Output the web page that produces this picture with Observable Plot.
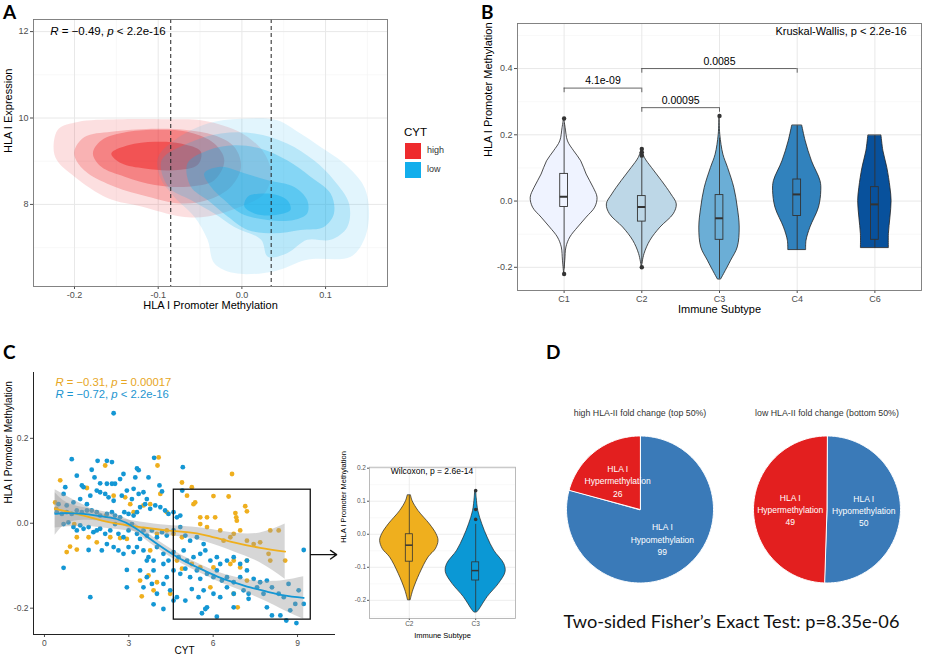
<!DOCTYPE html>
<html><head><meta charset="utf-8">
<script src="https://cdn.jsdelivr.net/npm/d3@7"></script>
<script src="https://cdn.jsdelivr.net/npm/@observablehq/plot@0.6"></script>
<style>
body{margin:0;background:#fff;}
#root{position:relative;width:936px;height:659px;background:#fff;overflow:hidden;font-family:'Liberation Sans',Arial,sans-serif;}
.pl{position:absolute;font-family:Lato,'Open Sans',sans-serif;font-size:19px;font-weight:700;color:#000;line-height:1;}
</style></head><body><div id="root"></div>
<script>
// ---------------- DATA ----------------
// Panel A : 2D density contour levels (HLA I promoter methylation, HLA I expression)
const cytLevels = ["high", "low"];
const redLevel1 = [[-0.225,9.33],[-0.219,9.75],[-0.196,9.91],[-0.148,9.97],[-0.088,9.97],[-0.049,9.95],[-0.017,9.79],[0.007,9.56],[0.027,9.18],[0.035,8.72],[0.027,8.25],[-0.001,7.95],[-0.041,7.72],[-0.073,7.72],[-0.120,7.95],[-0.160,8.14],[-0.200,8.64],[-0.221,9.02]];
const redLevel2 = [[-0.200,9.25],[-0.188,9.56],[-0.156,9.68],[-0.108,9.75],[-0.069,9.73],[-0.033,9.60],[-0.009,9.33],[-0.001,8.87],[-0.013,8.41],[-0.041,8.10],[-0.073,8.02],[-0.112,8.18],[-0.152,8.41],[-0.184,8.72],[-0.198,9.02]];
const redLevel3 = [[-0.178,9.18],[-0.168,9.48],[-0.136,9.68],[-0.096,9.73],[-0.065,9.68],[-0.033,9.41],[-0.021,9.02],[-0.033,8.56],[-0.065,8.41],[-0.104,8.45],[-0.140,8.64],[-0.168,8.87]];
const redLevel4 = [[-0.156,9.18],[-0.136,9.37],[-0.104,9.45],[-0.073,9.41],[-0.049,9.22],[-0.053,8.91],[-0.081,8.79],[-0.116,8.83],[-0.144,8.95]];
const blueLevel1 = [[-0.100,9.10],[-0.081,9.48],[-0.041,9.87],[-0.001,9.98],[0.042,9.95],[0.070,9.64],[0.094,9.33],[0.122,8.95],[0.146,8.41],[0.152,7.79],[0.146,7.18],[0.130,6.79],[0.078,6.72],[0.038,6.45],[-0.009,6.41],[-0.033,6.64],[-0.041,7.18],[-0.057,7.72],[-0.081,8.18],[-0.098,8.64]];
const blueLevel2 = [[-0.096,9.02],[-0.065,9.41],[-0.025,9.64],[0.015,9.64],[0.054,9.41],[0.086,9.02],[0.110,8.56],[0.128,8.02],[0.126,7.48],[0.106,7.18],[0.078,7.18],[0.054,6.87],[0.031,6.79],[0.023,7.18],[-0.009,7.48],[-0.033,7.79],[-0.061,8.10],[-0.088,8.41]];
const blueLevel3 = [[-0.065,8.95],[-0.041,9.25],[-0.009,9.37],[0.023,9.29],[0.054,9.02],[0.082,8.64],[0.106,8.25],[0.110,7.79],[0.098,7.48],[0.070,7.41],[0.038,7.33],[0.007,7.41],[-0.017,7.72],[-0.041,8.10],[-0.061,8.41]];
const blueLevel4 = [[-0.045,8.72],[-0.025,8.87],[0.003,8.72],[0.031,8.56],[0.062,8.41],[0.078,8.10],[0.078,7.79],[0.062,7.64],[0.031,7.64],[-0.001,7.79],[-0.021,8.10],[-0.037,8.41]];
const blueLevel5 = [[0.007,8.18],[0.031,8.25],[0.054,8.10],[0.058,7.87],[0.038,7.75],[0.015,7.79],[0.003,7.95]];
const cutoffsA = [-0.085, 0.035];
const xTicksA = [-0.2,-0.1,0,0.1], xMinorA = [-0.15,-0.05,0.05,0.15];
const yTicksA = [8,10,12], yMinorA = [7,9,11];
const statA = "R = −0.49, p < 2.2e-16";

// Panel B : violins per immune subtype, [value, half width]
const subtypes = ["C1","C2","C3","C4","C6"];
const violinC1 = [[0.25,0],[0.22,0.02],[0.18,0.05],[0.15,0.13],[0.12,0.22],[0.08,0.29],[0.04,0.38],[0.01,0.43],[-0.02,0.40],[-0.05,0.29],[-0.08,0.18],[-0.11,0.08],[-0.14,0.03],[-0.18,0.015],[-0.22,0]];
const violinC2 = [[0.157,0],[0.13,0.04],[0.10,0.13],[0.06,0.26],[0.02,0.38],[-0.01,0.45],[-0.04,0.41],[-0.08,0.24],[-0.12,0.11],[-0.16,0.035],[-0.20,0]];
const violinC3 = [[0.257,0],[0.2,0.01],[0.14,0.05],[0.10,0.11],[0.04,0.19],[-0.02,0.235],[-0.08,0.26],[-0.14,0.235],[-0.18,0.15],[-0.22,0.06],[-0.237,0.02]];
const violinC4 = [[0.227,0.065],[0.18,0.11],[0.12,0.19],[0.06,0.30],[0.03,0.31],[-0.02,0.28],[-0.08,0.17],[-0.12,0.12],[-0.148,0.115]];
const violinC6 = [[0.197,0.085],[0.15,0.11],[0.10,0.16],[0.04,0.20],[0.0,0.215],[-0.05,0.20],[-0.10,0.18],[-0.142,0.18]];
const boxQ1 = [-0.018,-0.062,-0.117,-0.045,-0.117];
const boxMedian = [0.013,-0.018,-0.052,0.02,-0.01];
const boxQ3 = [0.082,0.015,0.018,0.065,0.042];
const whiskerLow = [-0.205,-0.19,-0.235,-0.148,-0.142];
const whiskerHigh = [0.235,0.13,0.19,0.227,0.197];
const outliersB = [[0.249,-0.22],[0.157,0.147,0.137,-0.2],[0.257],[],[]];
const comparisons = [["C1","C2",0.341,"4.1e-09"],["C2","C3",0.282,"0.00095"],["C2","C4",0.40,"0.0085"]];
const statB = "Kruskal-Wallis, p < 2.2e-16";
const yTicksB = [-0.2,0,0.2,0.4], yMinorB = [-0.1,0.1,0.3,0.5];
const subtypeColors = ["#EFF3FF","#BDD7E7","#6BAED6","#3182BD","#08519C"];

// Panel C : scatter (CYT, methylation) for C2 (orange) and C3 (blue)
const scatterC2 = [[0.56,0.101],[0.38,0.049],[1.51,0.083],[2.16,0.136],[2.46,0.065],[3.17,0.026],[4.06,0.155],[4.02,0.136],[4.35,0.026],[4.89,0.096],[5.24,0.085],[5.30,0.045],[5.36,0.049],[6.01,0.064],[6.67,0.116],[6.55,0.063],[7.14,0.040],[7.20,0.028],[6.79,0.024],[6.82,0.014],[6.84,0.006],[5.54,0.014],[5.78,0.014],[6.07,0.014],[5.07,0.065],[3.52,0.042],[3.76,0.045],[4.12,0.069],[3.05,0.045],[2.87,0.061],[0.91,-0.055],[1.15,-0.062],[1.57,-0.033],[1.86,-0.045],[2.34,-0.033],[2.69,-0.035],[2.93,-0.037],[3.76,-0.064],[4.00,-0.025],[4.35,-0.017],[4.59,-0.025],[4.89,-0.033],[5.54,-0.002],[5.78,-0.009],[6.25,-0.017],[6.37,-0.041],[6.61,-0.033],[6.73,-0.025],[6.96,-0.017],[7.20,-0.041],[7.44,-0.049],[7.67,-0.045],[8.03,-0.017],[8.33,-0.017],[8.56,-0.088],[7.97,-0.072],[8.03,-0.088],[7.20,-0.088],[6.73,-0.088],[6.61,-0.096],[6.96,-0.104],[6.01,-0.104],[5.54,-0.104],[5.24,-0.096],[4.89,-0.107],[4.71,-0.088],[3.40,-0.135],[4.00,-0.139],[3.46,-0.172],[4.47,-0.166],[5.90,-0.151],[6.73,-0.166],[6.87,-0.198],[7.20,-0.135],[3.88,-0.158],[3.70,-0.123],[0.79,-0.068],[1.15,-0.033],[0.42,0.034],[1.06,-0.002],[2.19,0.018]];
const scatterC3 = [[2.46,0.259],[0.97,0.151],[1.15,0.112],[1.33,0.089],[1.39,0.085],[1.68,0.126],[1.89,0.147],[2.22,0.147],[2.40,0.144],[1.78,0.108],[1.98,0.094],[2.22,0.093],[2.40,0.093],[2.51,0.093],[2.81,0.116],[2.69,0.104],[3.29,0.129],[3.35,0.125],[3.23,0.108],[3.17,0.081],[3.35,0.069],[3.52,0.073],[3.70,0.108],[3.90,0.154],[4.09,0.089],[4.18,0.075],[3.64,0.057],[4.92,0.132],[4.90,0.077],[0.68,0.069],[0.74,0.085],[0.50,0.045],[0.79,0.042],[1.03,0.049],[1.27,0.057],[1.51,0.045],[1.63,0.065],[1.86,0.077],[1.98,0.073],[2.16,0.069],[2.28,0.061],[2.46,0.053],[2.75,0.065],[2.93,0.077],[3.11,0.057],[0.44,0.026],[0.62,0.022],[0.79,0.026],[0.97,0.022],[1.15,0.030],[1.33,0.026],[1.51,0.030],[1.68,0.030],[1.86,0.026],[1.98,0.018],[2.22,0.022],[2.40,0.026],[2.51,0.018],[2.69,0.014],[2.84,0.026],[2.99,0.022],[3.17,0.018],[3.29,0.026],[3.40,0.038],[3.58,0.045],[3.76,0.034],[3.94,0.042],[4.12,0.038],[4.29,0.030],[4.41,0.022],[4.59,0.026],[4.71,0.014],[4.83,0.018],[0.68,-0.002],[0.85,0.002],[1.03,-0.009],[1.15,-0.017],[1.27,-0.005],[1.39,-0.013],[1.57,-0.009],[1.74,-0.021],[1.86,-0.017],[1.98,-0.013],[2.16,-0.025],[2.34,-0.017],[2.51,-0.002],[2.63,-0.025],[2.81,-0.033],[2.99,-0.017],[3.11,-0.002],[3.29,-0.025],[3.40,-0.037],[3.52,-0.017],[3.64,-0.029],[3.82,-0.017],[4.00,-0.033],[4.18,-0.021],[4.35,-0.029],[4.59,-0.017],[4.83,-0.009],[5.01,-0.029],[5.18,-0.041],[5.42,-0.033],[5.66,-0.049],[2.22,-0.049],[2.46,-0.056],[2.63,-0.064],[2.81,-0.072],[2.99,-0.056],[3.17,-0.068],[3.29,-0.056],[3.52,-0.064],[3.70,-0.080],[3.88,-0.088],[4.00,-0.056],[4.23,-0.072],[4.41,-0.088],[4.59,-0.068],[4.77,-0.080],[4.95,-0.064],[5.07,-0.088],[5.30,-0.080],[5.54,-0.072],[5.72,-0.064],[5.90,-0.088],[6.13,-0.080],[6.25,-0.096],[6.49,-0.088],[6.73,-0.080],[6.96,-0.096],[7.20,-0.088],[0.68,-0.105],[1.57,-0.063],[2.04,-0.064],[3.64,-0.088],[2.93,-0.110],[3.40,-0.111],[3.64,-0.127],[3.88,-0.111],[4.23,-0.096],[4.35,-0.127],[4.59,-0.111],[4.83,-0.119],[5.01,-0.107],[5.18,-0.127],[5.42,-0.111],[5.54,-0.131],[5.78,-0.119],[6.01,-0.127],[6.13,-0.111],[6.31,-0.135],[6.49,-0.127],[6.73,-0.139],[6.96,-0.127],[7.20,-0.111],[7.44,-0.131],[7.67,-0.139],[7.91,-0.135],[2.93,-0.151],[3.52,-0.151],[3.82,-0.143],[4.00,-0.166],[4.23,-0.143],[4.47,-0.158],[4.71,-0.174],[5.01,-0.182],[5.24,-0.155],[5.48,-0.174],[5.66,-0.158],[5.78,-0.198],[6.01,-0.166],[6.25,-0.174],[6.49,-0.151],[6.73,-0.166],[7.08,-0.158],[7.26,-0.166],[7.56,-0.151],[7.79,-0.166],[8.09,-0.151],[8.33,-0.166],[8.51,-0.174],[8.68,-0.143],[9.04,-0.158],[1.63,-0.174],[3.88,-0.191],[4.23,-0.202],[4.59,-0.182],[5.60,-0.212],[5.72,-0.202],[6.13,-0.220],[6.73,-0.198],[7.26,-0.178],[7.91,-0.198],[8.09,-0.217],[8.39,-0.217],[8.60,-0.229],[8.74,-0.205],[8.92,-0.190],[9.22,-0.190],[8.96,-0.235],[9.22,-0.063]];
// loess fits: [CYT, fit, half width of confidence band]
const smoothC2 = [[0.38,0.034,0.045],[1.39,0.018,0.025],[2.34,0.002,0.015],[3.40,-0.009,0.012],[4.35,-0.017,0.012],[5.07,-0.021,0.013],[5.78,-0.029,0.016],[6.73,-0.045,0.022],[7.67,-0.058,0.035],[8.56,-0.067,0.065]];
const smoothC3 = [[0.38,0.022,0.05],[0.79,0.024,0.025],[1.39,0.022,0.015],[1.98,0.017,0.012],[2.57,0.010,0.01],[3.17,-0.009,0.01],[3.76,-0.037,0.01],[4.35,-0.064,0.01],[4.95,-0.088,0.01],[5.54,-0.107,0.01],[6.13,-0.125,0.011],[6.73,-0.139,0.013],[7.32,-0.151,0.017],[7.91,-0.161,0.024],[8.51,-0.170,0.035],[9.22,-0.176,0.05]];
const statC2 = "R = −0.31, p = 0.00017";
const statC3 = "R = −0.72, p < 2.2e-16";
const zoomBox = {x1: 4.6, x2: 9.47, y1: -0.227, y2: 0.079};

// Panel C inset
const insetGroups = ["C2","C3"];
const insetViolinC2 = [[0.117,0.025],[0.1,0.05],[0.07,0.14],[0.03,0.31],[0,0.41],[-0.02,0.44],[-0.045,0.40],[-0.07,0.29],[-0.12,0.16],[-0.17,0.06],[-0.2,0.02]];
const insetViolinC3 = [[0.13,0.008],[0.11,0.015],[0.07,0.04],[0.03,0.1],[-0.01,0.18],[-0.05,0.28],[-0.09,0.43],[-0.115,0.45],[-0.15,0.35],[-0.19,0.18],[-0.23,0.05],[-0.237,0.02]];
const insetQ1 = [-0.083,-0.14], insetMedian = [-0.033,-0.11], insetQ3 = [0.0,-0.085];
const insetLow = [-0.2,-0.235], insetHigh = [0.117,0.03];
const insetOutliers = [[],[0.132,0.075,0.045]];
const statInset = "Wilcoxon, p = 2.6e-14";

// Panel D
const pieTitles = ["high HLA-II fold change (top 50%)", "low HLA-II fold change (bottom 50%)"];
const pieCategories = ["HLA I\nHypomethylation", "HLA I\nHypermethylation"];
const pieHigh = [99, 26];
const pieLow = [50, 49];
const fisherText = "Two-sided Fisher’s Exact Test: p=8.35e-06";

// ---------------- STYLE ----------------
const F = "'Liberation Sans', Arial, Helvetica, sans-serif";
const RED = "#EE2B2D", SKY = "#12AEEC";
const ORANGE = "#EFAF1E", BLUE = "#1497D4";
const PIE_RED = "#E31F1F", PIE_BLUE = "#3A7AB8";
const root = document.getElementById("root");
function place(el, left, top) {
  const d = document.createElement("div");
  d.style.cssText = `position:absolute;left:${left}px;top:${top}px;`;
  d.appendChild(el); root.appendChild(d); return d;
}
function italicize(svg) {
  svg.querySelectorAll("text").forEach(t => {
    const s = t.textContent;
    if (!/^R = /.test(s) || t.querySelector("tspan")) return;
    t.textContent = "";
    s.split(/(\bR\b|\bp\b)/).forEach(part => {
      if (!part) return;
      const ts = document.createElementNS("http://www.w3.org/2000/svg", "tspan");
      ts.textContent = part;
      if (part === "R" || part === "p") ts.setAttribute("font-style", "italic");
      t.appendChild(ts);
    });
  });
}
const fmt1 = d => d.toFixed(1);

// ---------------- PANEL A ----------------
const contourLayers = [
  [redLevel1, RED, 0.15],[redLevel2, RED, 0.25],[redLevel3, RED, 0.35],[redLevel4, RED, 0.55],
  [blueLevel1, SKY, 0.12],[blueLevel2, SKY, 0.2],[blueLevel3, SKY, 0.3],[blueLevel4, SKY, 0.35],[blueLevel5, SKY, 0.45]
];
const plotA = Plot.plot({
  width: 400, height: 320, marginLeft: 33, marginRight: 13, marginTop: 19, marginBottom: 34,
  style: {fontFamily: F, fontSize: "9px", color: "#4d4d4d", background: "transparent", overflow: "visible"},
  x: {domain: [-0.249, 0.174], ticks: xTicksA, tickFormat: fmt1, tickSize: 3, tickPadding: 2, label: null},
  y: {domain: [6.1, 12.28], ticks: yTicksA, tickFormat: d => String(d), tickSize: 3, tickPadding: 2, label: null},
  marks: [
    Plot.ruleX(xMinorA, {stroke: "#f3f3f3", strokeWidth: 0.6}),
    Plot.ruleY(yMinorA, {stroke: "#f3f3f3", strokeWidth: 0.6}),
    Plot.ruleX(xTicksA, {stroke: "#e8e8e8", strokeWidth: 1}),
    Plot.ruleY(yTicksA, {stroke: "#e8e8e8", strokeWidth: 1}),
    ...contourLayers.map(([pts, c, op]) => Plot.line(pts, {x: d => d[0], y: d => d[1], fill: c, fillOpacity: op, stroke: "none", curve: "catmull-rom-closed"})),
    Plot.ruleX(cutoffsA, {stroke: "#222", strokeDasharray: "4,3", strokeWidth: 1}),
    Plot.frame({stroke: "#777", strokeWidth: 0.9}),
    Plot.text([statA], {x: -0.229, y: 12, text: d => d, textAnchor: "start", fontSize: 11.5, fill: "#000"}),
    Plot.text(["HLA I Promoter Methylation"], {frameAnchor: "bottom", dy: 22, text: d => d, fontSize: 11, fill: "#000"}),
    Plot.text(["HLA I Expression"], {frameAnchor: "left", rotate: -90, dx: -25, text: d => d, fontSize: 11, fill: "#000"})
  ]
});
italicize(plotA);
place(plotA, 0, 0);

// legend (CYT)
{
  const lg = document.createElement("div");
  lg.style.cssText = `position:relative;width:60px;height:60px;font-family:${F};`;
  const t = document.createElement("div");
  t.textContent = "CYT";
  t.style.cssText = "position:absolute;left:0;top:0;font-size:11.5px;color:#000;";
  lg.appendChild(t);
  cytLevels.forEach((lv, i) => {
    const sw = document.createElement("div");
    sw.style.cssText = `position:absolute;left:1px;top:${17 + i * 19}px;width:16px;height:16px;background:${i === 0 ? RED : SKY};`;
    const tx = document.createElement("div");
    tx.textContent = lv;
    tx.style.cssText = `position:absolute;left:23px;top:${19 + i * 19}px;font-size:9px;color:#333;`;
    lg.appendChild(sw); lg.appendChild(tx);
  });
  place(lg, 404, 126);
}

// ---------------- PANEL B ----------------
const violinsB = [violinC1, violinC2, violinC3, violinC4, violinC6];
const boxB = subtypes.map((s, i) => ({pos: i + 1, q1: boxQ1[i], med: boxMedian[i], q3: boxQ3[i], lo: whiskerLow[i], hi: whiskerHigh[i], fill: subtypeColors[i]}));
const outB = subtypes.flatMap((s, i) => outliersB[i].map(v => ({pos: i + 1, v})));
const posOf = s => subtypes.indexOf(s) + 1;
const brackets = comparisons.map(([a, b, y, label]) => ({a: posOf(a), b: posOf(b), y, label}));
const plotB = Plot.plot({
  width: 536, height: 320, marginLeft: 117, marginRight: 15, marginTop: 23, marginBottom: 30,
  style: {fontFamily: F, fontSize: "9px", color: "#4d4d4d", background: "transparent", overflow: "visible"},
  x: {domain: [0.4, 5.6], ticks: [1,2,3,4,5], tickFormat: i => subtypes[i - 1], tickSize: 3, tickPadding: 2, label: null},
  y: {domain: [-0.27, 0.536], ticks: yTicksB, tickFormat: fmt1, tickSize: 3, tickPadding: 2, label: null},
  marks: [
    Plot.ruleY(yMinorB, {stroke: "#f3f3f3", strokeWidth: 0.6}),
    Plot.ruleY(yTicksB, {stroke: "#e8e8e8", strokeWidth: 1}),
    Plot.ruleX([1,2,3,4,5], {stroke: "#e8e8e8", strokeWidth: 1}),
    ...violinsB.map((prof, i) => Plot.areaX(prof, {y: d => d[0], x1: d => i + 1 - d[1], x2: d => i + 1 + d[1], fill: subtypeColors[i], stroke: "#222", strokeWidth: 0.8, curve: "catmull-rom"})),
    Plot.ruleX(boxB, {x: "pos", y1: "lo", y2: "hi", stroke: "#333", strokeWidth: 0.9}),
    Plot.rect(boxB, {x1: d => d.pos - 0.05, x2: d => d.pos + 0.05, y1: "q1", y2: "q3", fill: d => d.fill, stroke: "#333", strokeWidth: 0.9}),
    Plot.ruleY(boxB, {y: "med", x1: d => d.pos - 0.05, x2: d => d.pos + 0.05, stroke: "#333", strokeWidth: 2}),
    Plot.dot(outB, {x: "pos", y: "v", r: 2.2, fill: "#333", stroke: "none"}),
    Plot.ruleY(brackets, {y: "y", x1: "a", x2: "b", stroke: "#555", strokeWidth: 0.9}),
    Plot.ruleX(brackets, {x: "a", y1: d => d.y - 0.014, y2: "y", stroke: "#555", strokeWidth: 0.9}),
    Plot.ruleX(brackets, {x: "b", y1: d => d.y - 0.014, y2: "y", stroke: "#555", strokeWidth: 0.9}),
    Plot.text(brackets, {x: d => (d.a + d.b) / 2, y: d => d.y + 0.022, text: "label", fontSize: 10.5, fill: "#000"}),
    Plot.frame({stroke: "#777", strokeWidth: 0.9}),
    Plot.text([statB], {x: 5.41, y: 0.511, text: d => d, textAnchor: "end", fontSize: 11, fill: "#000"}),
    Plot.text(["Immune Subtype"], {frameAnchor: "bottom", dy: 22, text: d => d, fontSize: 11, fill: "#000"}),
    Plot.text(["HLA I Promoter Methylation"], {frameAnchor: "left", rotate: -90, dx: -29, text: d => d, fontSize: 11, fill: "#000"})
  ]
});
place(plotB, 400, 0);

// ---------------- PANEL C ----------------
const plotC = Plot.plot({
  width: 345, height: 329, marginLeft: 33, marginRight: 10, marginTop: 42, marginBottom: 25,
  style: {fontFamily: F, fontSize: "8.5px", color: "#4d4d4d", background: "transparent", overflow: "visible"},
  x: {domain: [-0.39, 10.35], ticks: [0,3,6,9], tickSize: 3, tickPadding: 2, label: null},
  y: {domain: [-0.262, 0.355], ticks: [-0.2,0,0.2], tickFormat: fmt1, tickSize: 3, tickPadding: 2, label: null},
  marks: [
    Plot.dot(scatterC2, {x: d => d[0], y: d => d[1], r: 2.4, fill: ORANGE, stroke: "none"}),
    Plot.dot(scatterC3, {x: d => d[0], y: d => d[1], r: 2.4, fill: BLUE, stroke: "none"}),
    Plot.areaY(smoothC2, {x: d => d[0], y1: d => d[1] - d[2], y2: d => d[1] + d[2], fill: "#999", fillOpacity: 0.4, curve: "natural"}),
    Plot.areaY(smoothC3, {x: d => d[0], y1: d => d[1] - d[2], y2: d => d[1] + d[2], fill: "#999", fillOpacity: 0.4, curve: "natural"}),
    Plot.line(smoothC2, {x: d => d[0], y: d => d[1], stroke: ORANGE, strokeWidth: 1.8, curve: "natural"}),
    Plot.line(smoothC3, {x: d => d[0], y: d => d[1], stroke: BLUE, strokeWidth: 1.8, curve: "natural"}),
    Plot.rect([zoomBox], {x1: "x1", x2: "x2", y1: "y1", y2: "y2", fill: "none", stroke: "#111", strokeWidth: 1.3}),
    Plot.arrow([zoomBox], {x1: "x2", y1: -0.074, x2: 10.39, y2: -0.074, stroke: "#111", strokeWidth: 1.4, headLength: 8, headAngle: 70}),
    Plot.ruleX([-0.39], {stroke: "#222", strokeWidth: 1}),
    Plot.ruleY([-0.262], {stroke: "#222", strokeWidth: 1}),
    Plot.text([statC2], {x: 0.39, y: 0.332, text: d => d, textAnchor: "start", fontSize: 11.3, fill: "#E7A623"}),
    Plot.text([statC3], {x: 0.39, y: 0.303, text: d => d, textAnchor: "start", fontSize: 11.3, fill: "#1B95D0"}),
    Plot.text(["CYT"], {frameAnchor: "bottom", dy: 19, text: d => d, fontSize: 10, fill: "#000"}),
    Plot.text(["HLA I Promoter Methylation"], {frameAnchor: "left", rotate: -90, dx: -25, text: d => d, fontSize: 10, fill: "#000"})
  ]
});
italicize(plotC);
place(plotC, 0, 330);

// inset
const insetViolins = [insetViolinC2, insetViolinC3];
const insetColors = [ORANGE, "#0B98D5"];
const insetBox = insetGroups.map((g, i) => ({pos: i + 1, q1: insetQ1[i], med: insetMedian[i], q3: insetQ3[i], lo: insetLow[i], hi: insetHigh[i], fill: insetColors[i]}));
const insetOut = insetGroups.flatMap((g, i) => insetOutliers[i].map(v => ({pos: i + 1, v})));
const yTicksI = [-0.2,-0.1,0,0.1,0.2], yMinorI = [-0.25,-0.15,-0.05,0.05,0.15];
const plotI = Plot.plot({
  width: 190, height: 200, marginLeft: 39, marginRight: 5, marginTop: 16.7, marginBottom: 32,
  style: {fontFamily: F, fontSize: "6.5px", color: "#555", background: "transparent", overflow: "visible"},
  x: {domain: [0.4, 2.6], ticks: [1,2], tickFormat: i => insetGroups[i - 1], tickSize: 2, tickPadding: 1, label: null},
  y: {domain: [-0.255, 0.203], ticks: yTicksI, tickFormat: fmt1, tickSize: 2, tickPadding: 1.5, label: null},
  marks: [
    Plot.ruleY(yMinorI, {stroke: "#f3f3f3", strokeWidth: 0.5}),
    Plot.ruleY(yTicksI, {stroke: "#e8e8e8", strokeWidth: 0.8}),
    Plot.ruleX([1,2], {stroke: "#e8e8e8", strokeWidth: 0.8}),
    ...insetViolins.map((prof, i) => Plot.areaX(prof, {y: d => d[0], x1: d => i + 1 - d[1], x2: d => i + 1 + d[1], fill: insetColors[i], stroke: "#222", strokeWidth: 0.7, curve: "catmull-rom"})),
    Plot.ruleX(insetBox, {x: "pos", y1: "lo", y2: "hi", stroke: "#333", strokeWidth: 0.8}),
    Plot.rect(insetBox, {x1: d => d.pos - 0.053, x2: d => d.pos + 0.053, y1: "q1", y2: "q3", fill: d => d.fill, stroke: "#333", strokeWidth: 0.8}),
    Plot.ruleY(insetBox, {y: "med", x1: d => d.pos - 0.053, x2: d => d.pos + 0.053, stroke: "#333", strokeWidth: 1.5}),
    Plot.dot(insetOut, {x: "pos", y: "v", r: 1.8, fill: "#333", stroke: "none"}),
    Plot.frame({stroke: "#aaa", strokeWidth: 0.8}),
    Plot.text([statInset], {x: 0.72, y: 0.19, text: d => d, textAnchor: "start", fontSize: 8.5, fill: "#000"}),
    Plot.text(["Immune Subtype"], {frameAnchor: "bottom", dy: 19, text: d => d, fontSize: 7.5, fill: "#000"}),
    Plot.text(["HLA I Promoter Methylation"], {frameAnchor: "left", rotate: -90, dx: -26, text: d => d, fontSize: 7.5, fill: "#000"})
  ]
});
place(plotI, 330, 450);

// ---------------- PANEL D ----------------
const pieCenters = [0, 2.544];
const pieColors = [PIE_BLUE, PIE_RED];
const pieArcs = [pieHigh, pieLow].map(v => d3.pie().sort(null)(v));
function slicePolygon(cx, a0, a1) {
  const pts = [[cx, 0]];
  const n = Math.max(2, Math.ceil((a1 - a0) / 0.02));
  for (let k = 0; k <= n; k++) { const a = a0 + (a1 - a0) * k / n; pts.push([cx + Math.sin(a), Math.cos(a)]); }
  return pts;
}
const sliceMarks = [], pieLabels = [];
pieArcs.forEach((arcs, p) => arcs.forEach((a, j) => {
  sliceMarks.push(Plot.line(slicePolygon(pieCenters[p], a.startAngle, a.endAngle), {x: d => d[0], y: d => d[1], fill: pieColors[j], stroke: "white", strokeWidth: 1, curve: "linear-closed"}));
  const mid = (a.startAngle + a.endAngle) / 2;
  pieLabels.push({x: pieCenters[p] + 0.5 * Math.sin(mid), y: 0.5 * Math.cos(mid), text: pieCategories[j] + "\n" + a.value});
}));
const plotD = Plot.plot({
  width: 396, height: 279, margin: 0,
  style: {fontFamily: F, background: "transparent", overflow: "visible"},
  x: {domain: [-1.354, 4.034], axis: null},
  y: {domain: [-2.041, 1.755], axis: null},
  marks: [
    ...sliceMarks,
    Plot.text(pieLabels, {x: "x", y: "y", text: "text", fill: "white", fontSize: 8.5, lineHeight: 1.45}),
    Plot.text(pieTitles.map((t, i) => ({t, x: pieCenters[i]})), {x: "x", y: 1.306, text: "t", fontSize: 8.8, fill: "#333"}),
    Plot.text([fisherText], {x: 1.245, y: -1.533, text: d => d, fontSize: 18.2, fill: "#111", fontFamily: "Lato, 'Open Sans', sans-serif"})
  ]
});
place(plotD, 540, 380);

// ---------------- PANEL LETTERS ----------------
[["A", 3, 2], ["B", 481, 2], ["C", 3, 342], ["D", 546, 342]].forEach(([t, x, y]) => {
  const d = document.createElement("div"); d.className = "pl"; d.textContent = t;
  d.style.left = x + "px"; d.style.top = y + "px"; root.appendChild(d);
});
</script></body></html>
